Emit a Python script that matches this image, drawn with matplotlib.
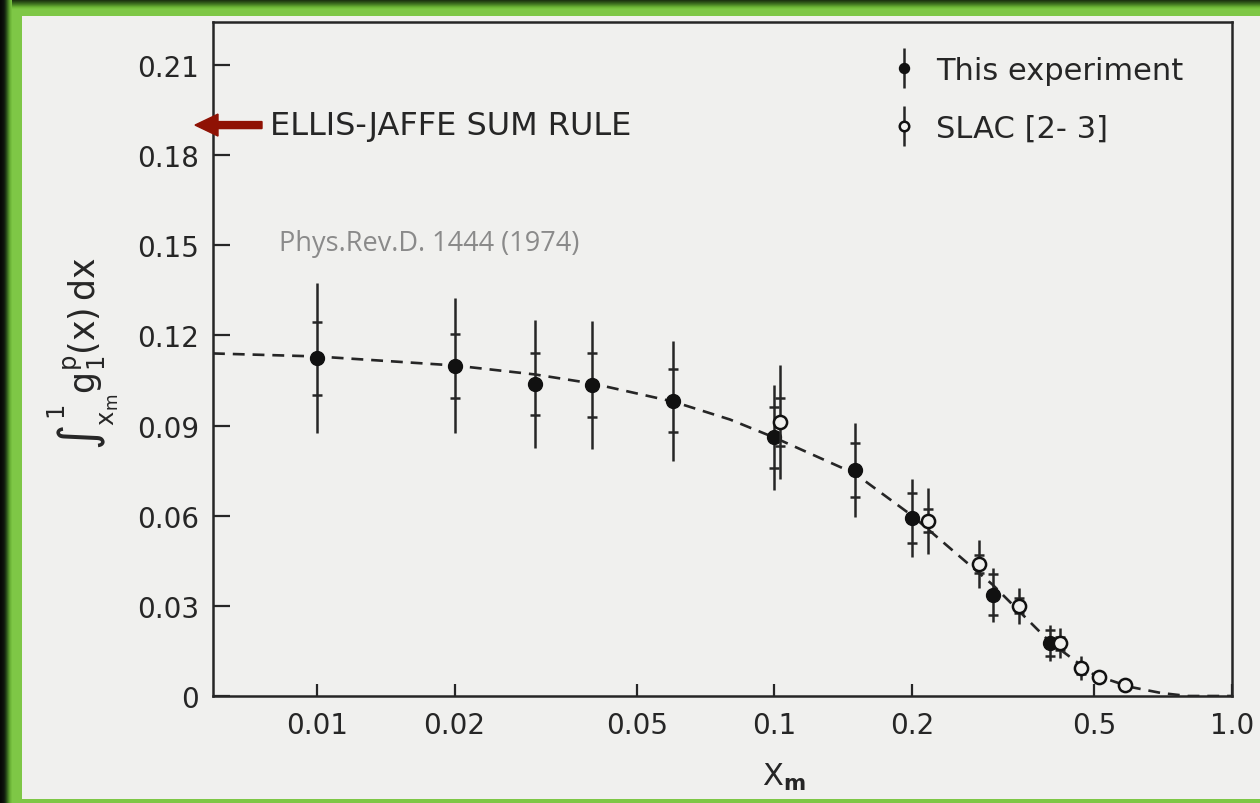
import matplotlib
matplotlib.use("Agg")
import matplotlib.pyplot as plt
from matplotlib.patches import Rectangle, FancyArrow
from matplotlib.transforms import IdentityTransform, blended_transform_factory
from matplotlib.legend_handler import HandlerErrorbar
import numpy as np

# ---- data -------------------------------------------------------------
# This experiment: lower integration limit, integral value, stat / total errors
exp_x = [0.01, 0.02, 0.03, 0.04, 0.06, 0.1, 0.15, 0.2, 0.3, 0.4]
exp_y = [0.1124, 0.1099, 0.1038, 0.1035, 0.0983, 0.0861, 0.0753, 0.0592, 0.0337, 0.0176]
exp_stat = [0.0121, 0.0107, 0.0103, 0.0108, 0.0106, 0.0101, 0.0090, 0.0083, 0.0068, 0.0043]
exp_tot = [0.0250, 0.0225, 0.0213, 0.0212, 0.0200, 0.0175, 0.0157, 0.0130, 0.0090, 0.0060]

# SLAC [2-3]
slac_x = [0.103, 0.217, 0.28, 0.342, 0.42, 0.467, 0.513, 0.585]
slac_y = [0.0911, 0.0583, 0.0439, 0.0301, 0.0176, 0.0092, 0.0062, 0.0037]
slac_stat = [0.0080, 0.0038, 0.0030, 0.0025, 0.0022, 0.0018, 0.0, 0.0]
slac_tot = [0.0190, 0.0110, 0.0080, 0.0060, 0.0050, 0.0040, 0.0, 0.0]

# dashed fit curve
curve_x = [0.00593, 0.01, 0.02, 0.03, 0.04, 0.06, 0.08, 0.1, 0.15, 0.2,
           0.3, 0.4, 0.5, 0.6, 0.7, 0.8, 1.0]
curve_y = [0.114, 0.113, 0.110, 0.107, 0.104, 0.098, 0.092, 0.086, 0.074, 0.060,
           0.037, 0.018, 0.007, 0.003, 0.001, 0.0, 0.0]

ellis_jaffe = 0.19

x_ticks = [0.01, 0.02, 0.05, 0.1, 0.2, 0.5, 1.0]
x_tick_labels = ["0.01", "0.02", "0.05", "0.1", "0.2", "0.5", "1.0"]
y_ticks = [0, 0.03, 0.06, 0.09, 0.12, 0.15, 0.18, 0.21]
y_tick_labels = ["0", "0.03", "0.06", "0.09", "0.12", "0.15", "0.18", "0.21"]

# ---- figure -----------------------------------------------------------
W, H = 1260, 804
plt.rcParams["font.family"] = ["DejaVu Sans"]
plt.rcParams["mathtext.fontset"] = "dejavusans"

paper = "#f0f0ee"
ink = "#262626"

fig = plt.figure(figsize=(W / 100, H / 100), dpi=100)
fig.patch.set_facecolor("#7ec746")


def px_rect(x0, y0, x1, y1, color):
    """Rectangle in pixel coordinates measured from the top-left corner."""
    fig.add_artist(Rectangle((x0 / W, 1 - y1 / H), (x1 - x0) / W, (y1 - y0) / H,
                             transform=fig.transFigure, facecolor=color,
                             edgecolor="none", zorder=-10))


# frame: dark shading on top and left, light green band around the paper
top_cols = ["#14240c", "#1d3510", "#264614", "#2f5818", "#3a6a1d", "#467d23",
            "#549229", "#62a830", "#6fb838", "#78c240"]
for i, c in enumerate(top_cols):
    px_rect(0, i, W, i + 1, c)
left_cols = ["#050805", "#070a07", "#0a0f0a", "#0d140c", "#12200f", "#1c3413", "#2a4d19",
             "#3a6a20", "#4c8628", "#5e9f30", "#6cb338", "#76bf3f"]
for i, c in enumerate(left_cols):
    px_rect(i, 0, i + 1, H, c)
px_rect(22, 17, W, 800, paper)

ax = fig.add_axes([213 / W, 1 - 697 / H, (1232 - 213) / W, (697 - 23) / H])
ax.set_facecolor("none")
ax.set_xscale("log")
ax.set_xlim(0.00593, 1.0)
ax.set_ylim(0, 0.2243)

for s in ax.spines.values():
    s.set_linewidth(1.8)
    s.set_color(ink)

ax.set_xticks(x_ticks)
ax.set_xticklabels(x_tick_labels)
ax.set_yticks(y_ticks)
ax.set_yticklabels(y_tick_labels)
ax.minorticks_off()
ax.tick_params(axis="x", direction="in", length=9, width=1.6, pad=11,
               labelsize=20, colors=ink)
ax.tick_params(axis="y", direction="in", length=12, width=1.6, pad=10,
               labelsize=20, colors=ink)

# fit curve
ax.plot(curve_x, curve_y, color=ink, lw=1.9, dashes=(4.5, 3), zorder=2)

# this experiment
eb_exp = ax.errorbar(exp_x, exp_y, yerr=exp_tot, fmt="o", ms=10, mfc="#111111",
                     mec="#111111", ecolor=ink, elinewidth=1.8, capsize=0, zorder=4)
for sign in (1, -1):
    ax.plot(exp_x, np.array(exp_y) + sign * np.array(exp_stat), ls="none",
            marker="_", ms=7, mew=1.8, color=ink, zorder=4)

# SLAC
eb_slac = ax.errorbar(slac_x, slac_y, yerr=slac_tot, fmt="o", ms=9.5, mfc=paper,
                      mec="#111111", mew=1.8, ecolor=ink, elinewidth=1.8,
                      capsize=0, zorder=5)
for sign in (1, -1):
    ax.plot(slac_x, np.array(slac_y) + sign * np.array(slac_stat), ls="none",
            marker="_", ms=7, mew=1.8, color=ink, zorder=4)

# legend
leg = ax.legend([eb_exp, eb_slac], ["This experiment", "SLAC [2- 3]"],
                loc="upper left", bbox_to_anchor=(893 / W, 1 - 57 / H),
                bbox_transform=fig.transFigure, frameon=False, fontsize=22,
                handlelength=0.7, handletextpad=0.7, labelspacing=0.95,
                borderpad=0, borderaxespad=0, markerscale=0.72,
                handler_map={type(eb_exp): HandlerErrorbar(yerr_size=0.65)})
for t in leg.get_texts():
    t.set_color(ink)

# Ellis-Jaffe sum rule marker
ej_tr = blended_transform_factory(ax.transAxes, ax.transData)
ax.text(0.056, ellis_jaffe, "ELLIS-JAFFE SUM RULE", transform=ej_tr,
        fontsize=23, color=ink, va="center", ha="left")
fig.canvas.draw()
_, y_ej = ax.transData.transform((0.01, ellis_jaffe))
fig.add_artist(FancyArrow(262, y_ej, -67, 0, width=7, head_width=22,
                          head_length=23, length_includes_head=True,
                          transform=IdentityTransform(), color="#8f1204",
                          zorder=10))

# reference note
ax.text(0.065, 0.672, "Phys.Rev.D. 1444 (1974)", transform=ax.transAxes,
        fontsize=19.5, color="#8a8a8a", family="Open Sans", va="center", ha="left")

# axis labels
ax.set_ylabel(r"$\int_{\mathrm{x_m}}^{1}\mathrm{g_1^{p}(x)\,dx}$", fontsize=25, color=ink)
ax.yaxis.set_label_coords(-0.09, 0.51)
ax.set_xlabel(r"X$_{\mathbf{m}}$", fontsize=22, color=ink)
ax.xaxis.set_label_coords(0.56, -0.097)

fig.savefig("out.png", dpi=100, facecolor=fig.get_facecolor())
